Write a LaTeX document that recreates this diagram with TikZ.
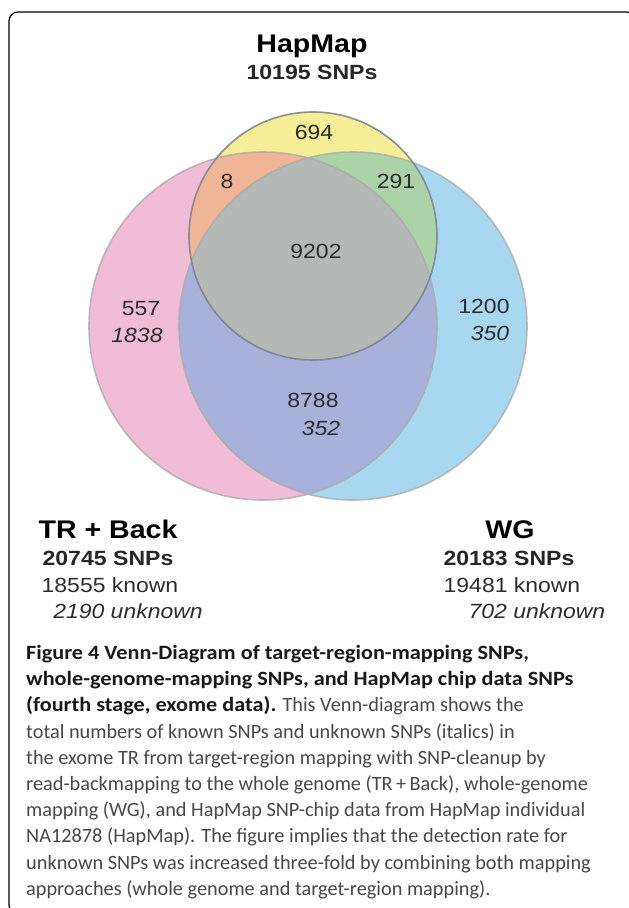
\documentclass[tikz,border=0pt]{standalone}
\usepackage{fontspec}
\setmainfont{Liberation Sans}
\newfontfamily\vennfont[FakeStretch=1.12]{Liberation Sans}
\newfontfamily\capfont[BoldFeatures={FakeStretch=1.095}]{Carlito}
\definecolor{trpink}{RGB}{241,189,214}
\definecolor{wgblue}{RGB}{168,216,240}
\definecolor{hapyellow}{RGB}{246,238,150}
\definecolor{trwg}{RGB}{167,177,217}
\definecolor{haptr}{RGB}{239,181,150}
\definecolor{hapwg}{RGB}{172,210,168}
\definecolor{allthree}{RGB}{180,184,182}
\definecolor{ringgray}{RGB}{172,172,172}
\definecolor{hapring}{RGB}{128,132,148}
\definecolor{numgray}{RGB}{45,45,45}
\definecolor{capgray}{RGB}{72,72,72}
\newcommand{\trcircle}{(263,326) circle (174pt)}
\newcommand{\wgcircle}{(353,326) circle (174pt)}
\newcommand{\hapcircle}{(313,236) circle (124pt)}

\begin{document}
\begin{tikzpicture}[x=1pt,y=-1pt,
  num/.style={inner sep=0pt,anchor=base,text=numgray,font=\vennfont\fontsize{20.5}{24}\selectfont},
  ital/.style={num,font=\vennfont\fontsize{20.5}{24}\selectfont\itshape},
  head/.style={num,text=black,font=\vennfont\fontsize{25.5}{30}\selectfont\bfseries},
  sub/.style={num,text=black!85,font=\vennfont\fontsize{20.6}{24}\selectfont\bfseries}]
  \useasboundingbox (0,0) rectangle (629,908);
  \clip (0,0) rectangle (629,908);
  \draw[rounded corners=9pt,line width=1.2pt] (9,12) rectangle (636,914);
  % circles and their overlaps
  \fill[trpink] \trcircle;
  \fill[wgblue] \wgcircle;
  \begin{scope}
    \clip \trcircle;
    \fill[trwg] \wgcircle;
  \end{scope}
  \fill[hapyellow] \hapcircle;
  \begin{scope}
    \clip \hapcircle;
    \fill[haptr] \trcircle;
    \fill[hapwg] \wgcircle;
    \clip \trcircle;
    \fill[allthree] \wgcircle;
  \end{scope}
  \draw[ringgray,line width=1.6pt,opacity=0.8] \trcircle;
  \draw[ringgray,line width=1.6pt,opacity=0.8] \wgcircle;
  \draw[hapring,line width=1.6pt,opacity=0.9] \hapcircle;
  % set names
  \node[head] (hapmap) at (312,52) {HapMap};
  \node[sub] (hapsnps) at (312,79) {10195 SNPs};
  \node[head] (trback) at (108,538) {TR + Back};
  \node[sub] (trsnps) at (108,565) {20745 SNPs};
  \node[num] (trknown) at (110,592) {18555 known};
  \node[ital] (trunknown) at (128,618) {2190 unknown};
  \node[head] (wg) at (510,538) {WG};
  \node[sub] (wgsnps) at (509,565) {20183 SNPs};
  \node[num] (wgknown) at (512,592) {19481 known};
  \node[ital] (wgunknown) at (537,618) {702 unknown};
  % counts
  \node[num] (hap) at (314,139) {694};
  \node[num] (haptrn) at (227,188) {8};
  \node[num] (hapwgn) at (396,188) {291};
  \node[num] (all) at (316,258) {9202};
  \node[num] (tr) at (141,315) {557};
  \node[ital] (trnew) at (137,342) {1838};
  \node[num] (wgn) at (484,313) {1200};
  \node[ital] (wgnew) at (490,340) {350};
  \node[num] (trwgn) at (313,407) {8788};
  \node[ital] (trwgnew) at (321,435) {352};
  % caption
  \node[inner sep=0pt,anchor=north west,align=left,text=capgray,
        font=\capfont\fontsize{20.3}{26.2}\selectfont] (caption) at (26,645)
    {{\bfseries\color{black!90}Figure 4 Venn-Diagram of target-region-mapping SNPs,}\\
     {\bfseries\color{black!90}whole-genome-mapping SNPs, and HapMap chip data SNPs}\\
     {\bfseries\color{black!90}(fourth stage, exome data).} This Venn-diagram shows the\\
     total numbers of known SNPs and unknown SNPs (italics) in\\
     the exome TR from target-region mapping with SNP-cleanup by\\
     read-backmapping to the whole genome (TR\,+\,Back), whole-genome\\
     mapping (WG), and HapMap SNP-chip data from HapMap individual\\
     NA12878 (HapMap). The figure implies that the detection rate for\\
     unknown SNPs was increased three-fold by combining both mapping\\
     approaches (whole genome and target-region mapping).};
\end{tikzpicture}
\end{document}
